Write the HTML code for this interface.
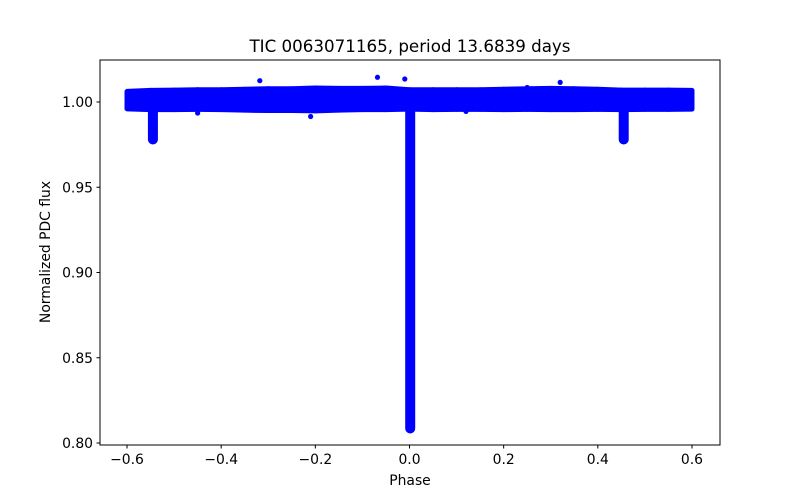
<!DOCTYPE html>
<html><head><meta charset="utf-8"><style>
body{margin:0;background:#fff;}
svg{display:block;font-family:"DejaVu Sans","Liberation Sans",sans-serif;}
</style></head><body>
<svg id="chart" width="800" height="500">
<rect width="800" height="500" fill="#fff"/>
<text x="410" y="52" text-anchor="middle" font-size="16.7">TIC 0063071165, period 13.6839 days</text>
<g id="marks"></g>
<rect x="100" y="60" width="620" height="385" fill="none" stroke="#000" stroke-width="1"/>
<g id="xt"></g>
<g id="yt"></g>
<text x="410" y="485" text-anchor="middle" font-size="13.9">Phase</text>
<text transform="translate(50,252) rotate(-90)" text-anchor="middle" font-size="13.9">Normalized PDC flux</text>
</svg>
<script>
const xTicks=[-0.6,-0.4,-0.2,0.0,0.2,0.4,0.6];
const xTickLabels=["−0.6","−0.4","−0.2","0.0","0.2","0.4","0.6"];
const yTicks=[0.80,0.85,0.90,0.95,1.00];
const yTickLabels=["0.80","0.85","0.90","0.95","1.00"];
// baseline band: phase bins and flux envelope
const bandPhase=[-0.6,-0.55,-0.5,-0.45,-0.4,-0.35,-0.3,-0.25,-0.2,-0.15,-0.1,-0.05,0.0,0.05,0.1,0.15,0.2,0.25,0.3,0.35,0.4,0.45,0.5,0.55,0.6];
const bandLow=[0.9960,0.9955,0.9955,0.9957,0.9955,0.9952,0.9950,0.9950,0.9948,0.9952,0.9955,0.9955,0.9958,0.9955,0.9957,0.9957,0.9955,0.9957,0.9955,0.9955,0.9957,0.9955,0.9957,0.9957,0.9958];
const bandHigh=[1.0062,1.0068,1.0070,1.0072,1.0072,1.0075,1.0078,1.0078,1.0082,1.0080,1.0080,1.0082,1.0072,1.0072,1.0072,1.0072,1.0075,1.0078,1.0080,1.0078,1.0075,1.0070,1.0070,1.0070,1.0068];
// eclipse columns
const eclPhase=[-0.545,0.0015,0.455];
const eclLow=[0.9780,0.8085,0.9780];
const eclHigh=[0.997,0.997,0.997];
// notable outliers
const outPhase=[-0.318,-0.21,-0.068,-0.01,0.32,0.12,-0.45,0.25];
const outFlux=[1.0125,0.9915,1.0145,1.0135,1.0115,0.9945,0.9935,1.0085];
const X=v=>409.5+(v*470.8);
const Y=v=>102+(1.0-v)*1705;
const NS="http://www.w3.org/2000/svg";
const m=document.getElementById('marks');
const blue="#0000ff";
for(let i=0;i<bandPhase.length-1;i++){
  const p=document.createElementNS(NS,'polygon');
  
  
  p.setAttribute('points',`${X(bandPhase[i])},${Y(bandHigh[i])} ${X(bandPhase[i+1])},${Y(bandHigh[i+1])} ${X(bandPhase[i+1])},${Y(bandLow[i+1])} ${X(bandPhase[i])},${Y(bandLow[i])}`);
  p.setAttribute('fill',blue);p.setAttribute('stroke',blue);p.setAttribute('stroke-width','5');p.setAttribute('stroke-linejoin','round');
  m.appendChild(p);
}
for(let i=0;i<eclPhase.length;i++){
  const l=document.createElementNS(NS,'line');
  
  
  l.setAttribute('x1',X(eclPhase[i]));l.setAttribute('x2',X(eclPhase[i]));
  l.setAttribute('y1',Y(eclHigh[i]));l.setAttribute('y2',Y(eclLow[i]));
  l.setAttribute('stroke',blue);l.setAttribute('stroke-width',i==1?'10':'10');l.setAttribute('stroke-linecap','round');
  m.appendChild(l);
}
for(let i=0;i<outPhase.length;i++){
  const c=document.createElementNS(NS,'circle');
  
  
  c.setAttribute('cx',X(outPhase[i]));c.setAttribute('cy',Y(outFlux[i]));c.setAttribute('r','2.6');c.setAttribute('fill',blue);
  m.appendChild(c);
}
const xt=document.getElementById('xt');
xTicks.forEach((t,i)=>{
  const l=document.createElementNS(NS,'line');
  
  
  l.setAttribute('x1',X(t));l.setAttribute('x2',X(t));l.setAttribute('y1',445);l.setAttribute('y2',448.5);l.setAttribute('stroke','#000');
  xt.appendChild(l);
  const s=document.createElementNS(NS,'text');
  
  
  s.setAttribute('x',X(t));s.setAttribute('y',464);s.setAttribute('text-anchor','middle');s.setAttribute('font-size','13.9');
  s.textContent=xTickLabels[i];xt.appendChild(s);
});
const yt=document.getElementById('yt');
yTicks.forEach((t,i)=>{
  const l=document.createElementNS(NS,'line');
  
  
  l.setAttribute('x1',96.5);l.setAttribute('x2',100);l.setAttribute('y1',Y(t));l.setAttribute('y2',Y(t));l.setAttribute('stroke','#000');
  yt.appendChild(l);
  const s=document.createElementNS(NS,'text');
  
  
  s.setAttribute('x',93);s.setAttribute('y',Y(t)+5);s.setAttribute('text-anchor','end');s.setAttribute('font-size','13.9');
  s.textContent=yTickLabels[i];yt.appendChild(s);
});
</script>
</body></html>
